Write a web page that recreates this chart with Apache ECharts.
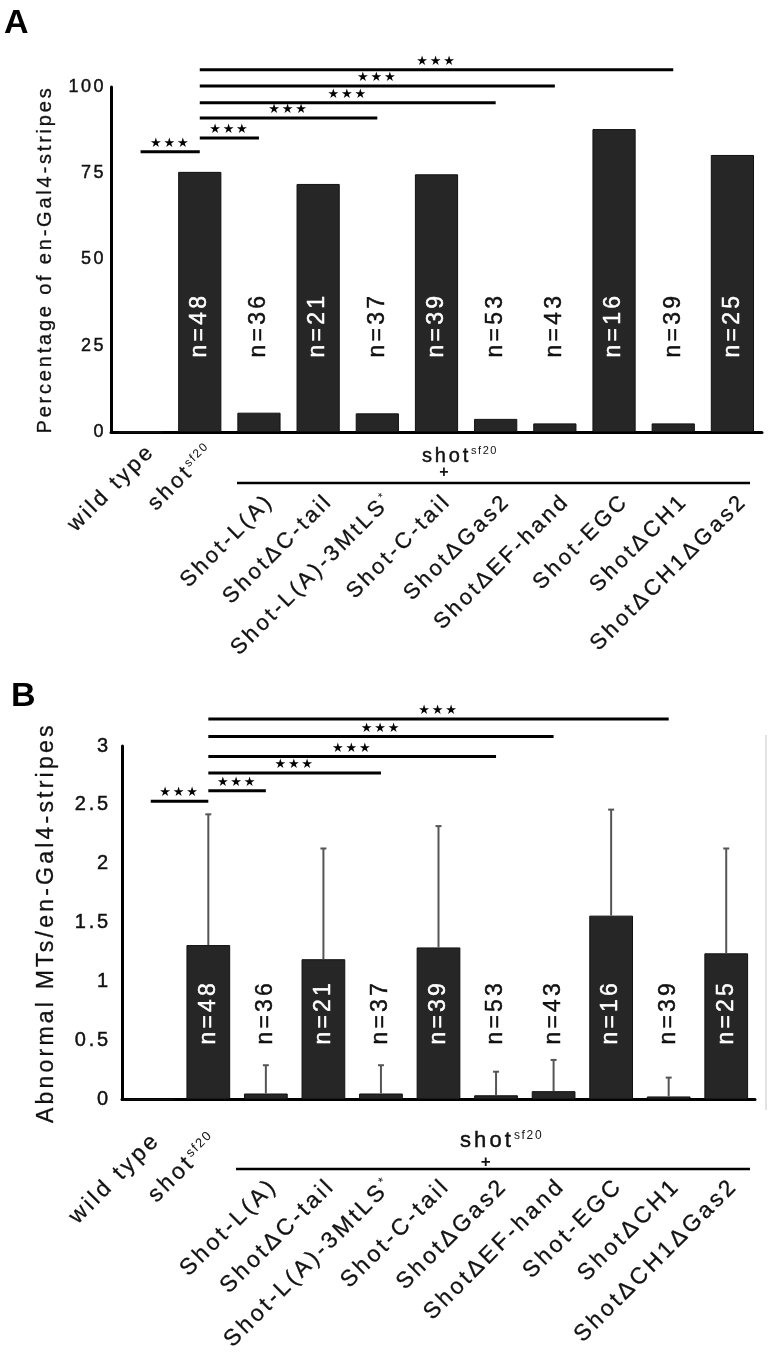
<!DOCTYPE html>
<html>
<head>
<meta charset="utf-8">
<script src="https://cdn.jsdelivr.net/npm/echarts@6/dist/echarts.min.js"></script>
<style>
html,body{margin:0;padding:0;background:#fff;}
#chart{width:768px;height:1355px;}
</style>
</head>
<body>
<div id="chart"></div>
<script>
// ---- letter tracking like the original figure (applies to all canvas text) ----
(function () {
  var P = window.CanvasRenderingContext2D && CanvasRenderingContext2D.prototype;
  if (!P || !('letterSpacing' in P)) return;
  function setLS(ctx) {
    var m = /([\d.]+)px/.exec(ctx.font || '');
    var fs = m ? parseFloat(m[1]) : 12;
    ctx.letterSpacing = (fs * 0.14).toFixed(2) + 'px';
  }
  ['measureText', 'fillText', 'strokeText'].forEach(function (k) {
    var orig = P[k];
    P[k] = function () { setLS(this); return orig.apply(this, arguments); };
  });
})();

// ---------------- data ----------------
var categories = ['wild type', 'shot sf20', 'Shot-L(A)', 'ShotΔC-tail', 'Shot-L(A)-3MtLS*',
  'Shot-C-tail', 'ShotΔGas2', 'ShotΔEF-hand', 'Shot-EGC', 'ShotΔCH1', 'ShotΔCH1ΔGas2'];
var pctStripes = [0, 75.4, 5.6, 71.9, 5.4, 74.7, 3.8, 2.5, 87.8, 2.5, 80.3];
var abnormalMTs = [0, 1.31, 0.05, 1.19, 0.05, 1.29, 0.035, 0.07, 1.56, 0.025, 1.24];
var abnormalMTsSD = [0, 1.11, 0.24, 0.94, 0.24, 1.03, 0.2, 0.265, 0.9, 0.16, 0.89];
var nCounts = [null, 48, 36, 21, 37, 39, 53, 43, 16, 39, 25];
var sigPairs = [[0, 1], [1, 2], [1, 4], [1, 6], [1, 7], [1, 9]];
var sigLevelsA = [81.2, 85.2, 91, 95.4, 100.3, 105];
var sigLevelsB = [2.53, 2.62, 2.77, 2.91, 3.08, 3.23];
var sigLabel = '★★★';
var yTicksA = [0, 25, 50, 75, 100];
var yTicksB = [0, 0.5, 1, 1.5, 2, 2.5, 3];
var yTitleA = 'Percentage of en-Gal4-stripes';
var yTitleB = 'Abnormal MTs/en-Gal4-stripes';
var groupMain = 'shot', groupSup = 'sf20', groupPlus = '+';

// ---------------- helpers ----------------
var FONT = 'Liberation Sans';
var BAR = '#262626';
var INK = '#111';
var SW = 0.45; // slight text stroke for the heavier look of the original
var SWX = 0.3;

function labelFmt(v) {
  if (v === 'shot sf20') return '{m|shot}{s|sf20}';
  if (v.charAt(v.length - 1) === '*') return '{m|' + v.slice(0, -1) + '}{s|*}';
  return '{m|' + v + '}';
}
function catData(padFirst, padGroup) {
  return categories.map(function (c, i) {
    return { value: c, textStyle: { padding: i < 2 ? padFirst : padGroup } };
  });
}
function xAxisCfg(gi, fs, margin, padFirst, padGroup) {
  var sfs = Math.round(fs * 0.55);
  return {
    type: 'category', gridIndex: gi, data: catData(padFirst, padGroup),
    axisLine: { lineStyle: { color: '#000', width: 3 } },
    axisTick: { show: false },
    axisLabel: {
      interval: 0, rotate: 45, margin: margin, color: INK,
      fontFamily: FONT, fontSize: fs, formatter: labelFmt,
      rich: {
        m: { fontSize: fs, fontFamily: FONT, color: INK, lineHeight: fs + 2, textBorderColor: INK, textBorderWidth: SWX },
        s: { fontSize: sfs, fontFamily: FONT, color: INK, verticalAlign: 'top', lineHeight: sfs }
      }
    }
  };
}
function yAxisCfg(gi, ticks, title, fs, tfs, margin, gap) {
  return {
    type: 'value', gridIndex: gi, min: ticks[0], max: ticks[ticks.length - 1],
    interval: ticks[1] - ticks[0],
    axisLine: { show: true, lineStyle: { color: '#000', width: 3 } },
    axisTick: { show: false }, splitLine: { show: false },
    axisLabel: { color: INK, fontSize: fs, fontFamily: FONT, margin: margin, textBorderColor: INK, textBorderWidth: SW },
    name: title, nameLocation: 'middle', nameRotate: 90, nameGap: gap,
    nameTextStyle: { color: INK, fontSize: tfs, fontFamily: FONT, textBorderColor: INK, textBorderWidth: SWX }
  };
}
function sigSeries(gi, levels, lw) {
  return {
    type: 'custom', xAxisIndex: gi, yAxisIndex: gi, clip: false, silent: true, z: 5,
    data: sigPairs.map(function (p, k) { return [p[0], p[1], levels[k]]; }),
    encode: { x: [0, 1], y: 2 },
    renderItem: function (params, api) {
      var a = api.coord([api.value(0), api.value(2)]);
      var b = api.coord([api.value(1), api.value(2)]);
      return { type: 'group', children: [
        { type: 'line', shape: { x1: a[0], y1: a[1], x2: b[0], y2: b[1] }, style: { stroke: '#000', lineWidth: lw } },
        { type: 'text', x: (a[0] + b[0]) / 2, y: a[1] - 1, style: { text: sigLabel, fill: '#000', font: '13px DejaVu Sans', align: 'center', verticalAlign: 'bottom' } }
      ] };
    }
  };
}
function nSeries(gi, values, yPos, fs) {
  var d = [];
  nCounts.forEach(function (n, i) { if (n != null) d.push([i, n]); });
  return {
    type: 'custom', xAxisIndex: gi, yAxisIndex: gi, clip: false, silent: true, z: 6,
    data: d, encode: { x: 0 },
    renderItem: function (params, api) {
      var i = api.value(0);
      var p = api.coord([i, yPos]);
      var col = values[i] > yPos ? '#fff' : INK;
      return { type: 'text', x: p[0], y: p[1], rotation: Math.PI / 2,
        style: { text: 'n=' + api.value(1), fill: col, stroke: col, lineWidth: SW, font: fs + 'px ' + FONT, align: 'center', verticalAlign: 'middle' } };
    }
  };
}
function groupText(x, y, fs) {
  var sfs = Math.round(fs * 0.55);
  return { type: 'text', x: x, y: y, style: { text: '{m|' + groupMain + '}{s|' + groupSup + '}', verticalAlign: 'middle',
    rich: { m: { fontSize: fs, fontFamily: FONT, fill: INK, lineHeight: fs + 2, stroke: INK, lineWidth: SW },
            s: { fontSize: sfs, fontFamily: FONT, fill: INK, verticalAlign: 'top', lineHeight: sfs } } } };
}

var option = {
  animation: false,
  backgroundColor: '#fff',
  grid: [
    { left: 111, top: 87, width: 651, height: 345 },
    { left: 122, top: 746, width: 633, height: 357 }
  ],
  xAxis: [
    xAxisCfg(0, 22, 5, [31, 0, 0, 0], [102, 35, 0, 0]),
    xAxisCfg(1, 23, 31, [17, 0, 0, 0], [85, 31, 0, 0])
  ],
  yAxis: [
    yAxisCfg(0, yTicksA, yTitleA, 18, 20, 5, 54),
    yAxisCfg(1, yTicksB, yTitleB, 20, 23, 11, 62)
  ],
  series: [
    { type: 'bar', xAxisIndex: 0, yAxisIndex: 0, data: pctStripes, barWidth: '73%',
      itemStyle: { color: BAR, borderColor: '#111', borderWidth: 1 } },
    { type: 'bar', xAxisIndex: 1, yAxisIndex: 1, data: abnormalMTs, barWidth: '76%',
      itemStyle: { color: BAR, borderColor: '#111', borderWidth: 1 } },
    { type: 'custom', xAxisIndex: 1, yAxisIndex: 1, clip: false, silent: true, z: 4,
      data: abnormalMTs.map(function (v, i) { return [i, v, v + abnormalMTsSD[i]]; }).filter(function (d) { return d[1] > 0; }),
      encode: { x: 0, y: [1, 2] },
      renderItem: function (params, api) {
        var lo = api.coord([api.value(0), api.value(1)]);
        var hi = api.coord([api.value(0), api.value(2)]);
        return { type: 'group', children: [
          { type: 'line', shape: { x1: lo[0], y1: lo[1], x2: hi[0], y2: hi[1] }, style: { stroke: '#555', lineWidth: 2 } },
          { type: 'line', shape: { x1: hi[0] - 3, y1: hi[1], x2: hi[0] + 3, y2: hi[1] }, style: { stroke: '#555', lineWidth: 2 } }
        ] };
      }
    },
    sigSeries(0, sigLevelsA, 3),
    sigSeries(1, sigLevelsB, 3),
    nSeries(0, pctStripes, 31, 23),
    nSeries(1, abnormalMTs, 0.74, 23)
  ],
  graphic: [
    { type: 'text', x: 4, y: 4, style: { text: 'A', font: 'bold 34px ' + FONT, fill: '#000' } },
    { type: 'text', x: 11, y: 677, style: { text: 'B', font: 'bold 34px ' + FONT, fill: '#000' } },
    // group bracket A
    groupText(422, 456, 20),
    { type: 'text', x: 445, y: 473, style: { text: groupPlus, font: 'bold 16px ' + FONT, fill: INK, align: 'center', verticalAlign: 'middle' } },
    { type: 'line', shape: { x1: 237, y1: 483, x2: 750, y2: 483 }, style: { stroke: '#000', lineWidth: 2.5 } },
    // group bracket B
    groupText(460, 1141, 22),
    { type: 'text', x: 487, y: 1162, style: { text: groupPlus, font: 'bold 17px ' + FONT, fill: INK, align: 'center', verticalAlign: 'middle' } },
    { type: 'line', shape: { x1: 236, y1: 1169, x2: 750, y2: 1169 }, style: { stroke: '#000', lineWidth: 2.5 } },
    { type: 'line', shape: { x1: 766, y1: 735, x2: 766, y2: 1110 }, style: { stroke: '#e2e2e2', lineWidth: 2 } }
  ]
};

var chart = echarts.init(document.getElementById('chart'), null, { renderer: 'canvas', width: 768, height: 1355 });
chart.setOption(option);
</script>
</body>
</html>
